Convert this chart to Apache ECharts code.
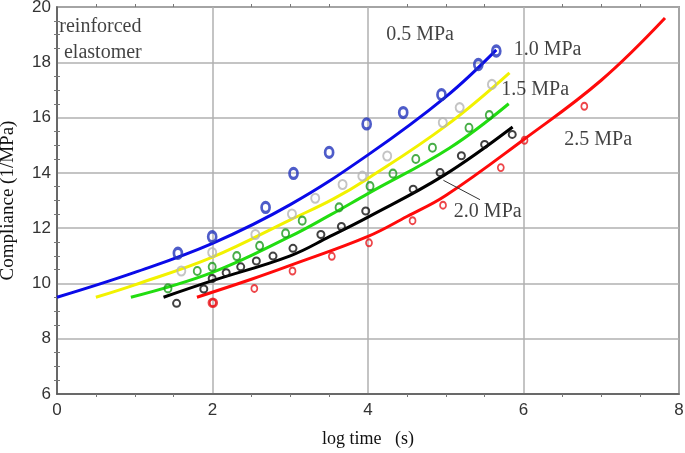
<!DOCTYPE html>
<html>
<head>
<meta charset="utf-8">
<script src="https://cdn.jsdelivr.net/npm/echarts@6/dist/echarts.min.js"></script>
<style>html,body{margin:0;padding:0;background:#fff}#c{width:685px;height:453px}</style>
</head>
<body>
<div id="c"></div>
<script>
// Fitted curves [log time, compliance]
var curve05 = [[0,9.5],[1,10.4],[2,11.45],[3,12.85],[4,14.65],[5,16.75],[5.65,18.45]];
var curve15 = [[0.5,9.5],[1,9.95],[2,10.95],[3,12.3],[3.55,13.05],[4,13.8],[5,15.7],[5.82,17.62]];
var curveGreen = [[0.95,9.5],[2,10.4],[3,11.7],[3.51,12.47],[4,13.25],[5.05,14.9],[5.81,16.5]];
var curve20 = [[1.37,9.5],[2,10.1],[3,11.0],[3.51,11.7],[4,12.4],[4.97,13.9],[5.86,15.66]];
var curve25 = [[1.8,9.5],[2.5,10.15],[3,10.65],[4,11.7],[4.5,12.42],[5,13.18],[6,15.2],[7,17.35],[7.82,19.6]];

// Measured points
var ptsBlue = [[1.555,11.09],[1.996,11.69],[2.683,12.75],[3.042,13.98],[3.5,14.74],[3.983,15.77],[4.453,16.18],[4.945,16.83],[5.419,17.92],[5.65,18.41]];
var ptsGray = [[1.599,10.45],[1.996,11.12],[2.551,11.77],[3.022,12.51],[3.321,13.08],[3.673,13.58],[3.927,13.88],[4.247,14.61],[4.962,15.82],[5.179,16.36],[5.594,17.2]];
var ptsGreen = [[1.427,9.82],[1.804,10.45],[1.996,10.6],[2.312,10.99],[2.606,11.36],[2.94,11.81],[3.154,12.27],[3.628,12.75],[4.026,13.52],[4.321,13.97],[4.615,14.5],[4.829,14.91],[5.299,15.63],[5.56,16.09]];
var ptsBlack = [[1.538,9.28],[1.888,9.8],[1.996,10.18],[2.176,10.39],[2.363,10.6],[2.564,10.81],[2.778,10.99],[3.035,11.27],[3.394,11.77],[3.658,12.06],[3.971,12.62],[4.581,13.41],[4.927,14.01],[5.201,14.62],[5.5,15.03],[5.855,15.39]];
var ptsRed = [[2.004,9.3],[2.538,9.82],[3.029,10.45],[3.535,10.98],[4.013,11.47],[4.573,12.27],[4.965,12.83],[5.708,14.19],[6.013,15.18],[6.782,16.41]];

// Annotations
var notes = [
  [4.67,18.98,'0.5 MPa','center'],
  [6.31,18.44,'1.0 MPa','center'],
  [6.15,16.99,'1.5 MPa','center'],
  [6.96,15.18,'2.5 MPa','center'],
  [5.54,12.59,'2.0 MPa','center'],
  [0.03,19.27,'reinforced','left'],
  [0.09,18.36,'elastomer','left']
];
var leader = [[4.97,13.73],[5.44,13.03]];

var xTicks = [0,2,4,6,8];
var yTicks = [6,8,10,12,14,16,18,20];

var chart = echarts.init(document.getElementById('c'));
function lineS(d, color){
  return {type:'line', data:d, smooth:0.4, showSymbol:false, symbol:'none', xAxisIndex:0, yAxisIndex:0,
    lineStyle:{color:color, width:3}, z:2, silent:true};
}
function ptS(d, color, size, bw){
  return {type:'scatter', data:d, symbol:'circle', symbolSize:size, xAxisIndex:0, yAxisIndex:0,
    itemStyle:{color:'rgba(0,0,0,0)', borderColor:color, borderWidth:bw}, z:3, silent:true};
}
var axisLab = {fontFamily:'Liberation Sans, Arial', fontSize:17, color:'#333'};
var opt = {
  animation:false,
  backgroundColor:'#fff',
  grid:{left:57, right:6, top:7, bottom:59, show:true, borderColor:'#555', borderWidth:1.5,
    containLabel:false, outerBoundsMode:'none'},
  xAxis:[{type:'value', min:0, max:8, interval:2,
    axisLine:{show:true, lineStyle:{color:'#555', width:1.5}},
    axisTick:{show:false},
    minorTick:{show:true, splitNumber:4, length:3, lineStyle:{color:'#777'}},
    splitLine:{show:true, lineStyle:{color:'#b0b0b0', width:1.5}},
    axisLabel:Object.assign({margin:8, formatter:function(v){return xTicks.indexOf(v)>=0?String(v):'';}}, axisLab),
    name:'log time   (s)', nameLocation:'middle', nameGap:36,
    nameTextStyle:{fontFamily:'Liberation Serif, Times New Roman', fontSize:18, color:'#111'}
  },{type:'value', min:0, max:8, interval:2, position:'top',
    axisLine:{show:false}, axisTick:{show:false}, axisLabel:{show:false}, splitLine:{show:false},
    minorTick:{show:true, splitNumber:4, length:3, lineStyle:{color:'#777'}}}],
  yAxis:[{type:'value', min:6, max:20, interval:2,
    axisLine:{show:true, lineStyle:{color:'#555', width:1.5}},
    axisTick:{show:false},
    minorTick:{show:true, splitNumber:4, length:3, lineStyle:{color:'#777'}},
    splitLine:{show:true, lineStyle:{color:'#b0b0b0', width:1.5}},
    axisLabel:Object.assign({margin:6, formatter:function(v){return yTicks.indexOf(v)>=0?String(v):'';}}, axisLab),
    name:'Compliance (1/MPa)', nameLocation:'middle', nameGap:39,
    nameTextStyle:{fontFamily:'Liberation Serif, Times New Roman', fontSize:19, color:'#111'}
  },{type:'value', min:6, max:20, interval:2, position:'right',
    axisLine:{show:false}, axisTick:{show:false}, axisLabel:{show:false}, splitLine:{show:false},
    minorTick:{show:true, splitNumber:4, length:3, lineStyle:{color:'#777'}}}],
  series:[
    lineS(curve05,'#0a0ae8'),
    lineS(curve15,'#f2f200'),
    lineS(curveGreen,'#22dd11'),
    lineS(curve20,'#000000'),
    lineS(curve25,'#ff0a0a'),
    ptS(ptsGray,'#b5b5b5',[8,9],2),
    ptS(ptsGreen,'#1a9a1a',[7,8],2),
    ptS(ptsBlack,'#111111',[7,7],2),
    ptS(ptsRed,'#e8161c',[6,7],1.8),
    ptS([ptsRed[0]],'#e8161c',[8,8],2.5),
    ptS(ptsBlue,'#2233bb',[8,10],3),
    {type:'line', data:leader, symbol:'none', lineStyle:{color:'#333', width:1}, z:2, silent:true},
    {type:'scatter', data:notes.map(function(n){return {value:[n[0],n[1]], name:n[2],
        label:{align:n[3]}};}),
      symbolSize:0, z:5, silent:true,
      label:{show:true, position:'inside', formatter:function(p){return p.name;},
        fontFamily:'Liberation Serif, Times New Roman', fontSize:20, color:'#111'}}
  ]
};
chart.setOption(opt);
</script>
</body>
</html>
